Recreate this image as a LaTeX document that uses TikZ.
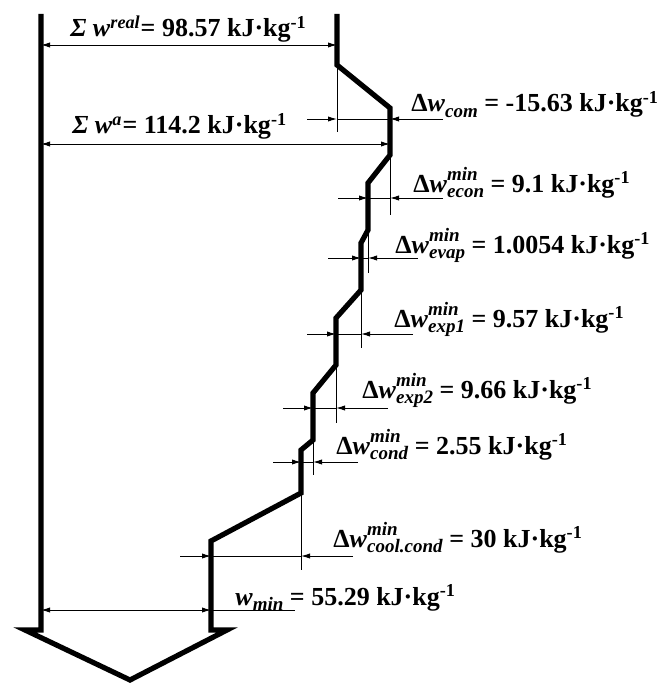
\documentclass[tikz,border=0pt]{standalone}
\usepackage{fontspec}
\setmainfont{Liberation Serif}
\usetikzlibrary{arrows.meta}

\newcommand\scr[1]{{\fontsize{9.5}{10}\selectfont\textit{#1}}}
\newcommand\dwmin[1]{Δ\textit{w}\rlap{\raisebox{0.45em}{\scr{min}}}\raisebox{-0.22em}{\scr{#1}}}
\newcommand\kjkg{kJ·kg\textsuperscript{-1}}

\begin{document}
\begin{tikzpicture}[
  x=0.5pt, y=-0.5pt,
  wall/.style = {line width=2.6pt, line join=miter},
  aux/.style = {line width=0.45pt},
  tip/.style = {aux, -{Latex[length=4.5pt, width=2.6pt]}},
  both/.style = {aux, {Latex[length=4.5pt, width=2.6pt]}-{Latex[length=4.5pt, width=2.6pt]}},
  lbl/.style = {anchor=base west, inner sep=0pt, font=\bfseries\fontsize{13}{15}\selectfont},
]
\useasboundingbox (0,0) rectangle (662,684);

% contour of the work flow
\draw[wall] (41,14) -- (41,630) -- (25,630) -- (130,680) -- (227,630) -- (211,630)
  -- (211,541) -- (301,493) -- (301,450) -- (313,440) -- (313,393) -- (336,365)
  -- (336,318) -- (361,290) -- (361,243) -- (368,230) -- (368,183) -- (390,155)
  -- (390,108) -- (337,65) -- (337,14);

% extension lines
\draw[aux] (337,65) -- (337,132);
\draw[aux] (390,155) -- (390,215);
\draw[aux] (368,230) -- (368,273);
\draw[aux] (361,290) -- (361,348);
\draw[aux] (336,365) -- (336,423);
\draw[aux] (313,440) -- (313,475);
\draw[aux] (301,493) -- (301,570);

% dimensions
\coordinate (rl) at (41,45);   \coordinate (rr) at (337,45);
\coordinate (al) at (41,144);  \coordinate (ar) at (390,144);
\coordinate (ml) at (41,610);  \coordinate (mr) at (211,610);
\draw[both] (rl) -- (rr);
\draw[both] (al) -- (ar);
\draw[both] (ml) -- (mr);
\draw[aux] (mr) -- (295,610);

\foreach \yy/\xa/\xl/\xr/\xb in {119/307/337/390/443, 198/338/368/390/443,
    258/328/361/368/418, 334/307/336/361/413, 408/283/313/336/388,
    462/273/301/313/358, 556/180/211/301/353}{
  \coordinate (p1) at (\xa,\yy); \coordinate (p2) at (\xl,\yy);
  \coordinate (p3) at (\xr,\yy); \coordinate (p4) at (\xb,\yy);
  \draw[aux] (p2) -- (p3);
  \draw[tip] (p1) -- (p2);
  \draw[tip] (p4) -- (p3);
}

% labels
\node[lbl] (real) at (70,37) {\textit{Σ w}\textsuperscript{\textit{real}}= 98.57 \kjkg};
\node[lbl] (adia) at (72,134) {\textit{Σ w}\textsuperscript{\textit{a}}= 114.2 \kjkg};
\node[lbl] (com) at (411,112) {Δ\textit{w}\raisebox{-0.22em}{\scr{com}} = -15.63 \kjkg};
\node[lbl] (econ) at (413,192) {\dwmin{econ} = 9.1 \kjkg};
\node[lbl] (evap) at (395,253) {\dwmin{evap} = 1.0054 \kjkg};
\node[lbl] (exp1) at (394,327) {\dwmin{exp1} = 9.57 \kjkg};
\node[lbl] (exp2) at (362,398) {\dwmin{exp2} = 9.66 \kjkg};
\node[lbl] (cond) at (336,454) {\dwmin{cond} = 2.55 \kjkg};
\node[lbl] (cool) at (333,547) {\dwmin{cool.cond} = 30 \kjkg};
\node[lbl] (wmin) at (235,605) {\textit{w}\raisebox{-0.22em}{\scr{min}} = 55.29 \kjkg};
\end{tikzpicture}
\end{document}
